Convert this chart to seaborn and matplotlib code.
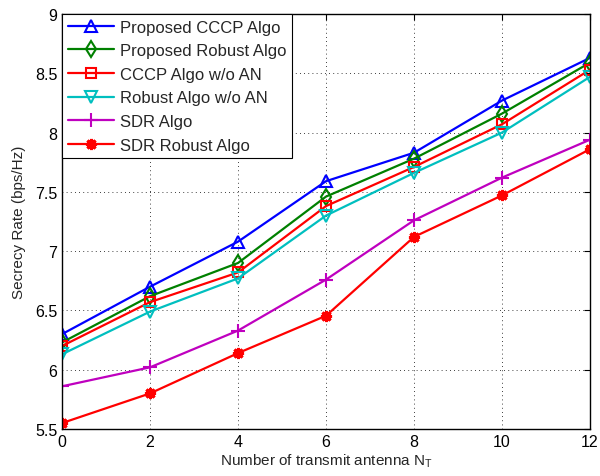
import matplotlib
matplotlib.use("Agg")
import matplotlib.pyplot as plt
import seaborn as sns
import pandas as pd

x_vals = [0, 2, 4, 6, 8, 10, 12]
proposed_cccp = [6.30, 6.70, 7.08, 7.59, 7.83, 8.27, 8.63]
proposed_robust = [6.23, 6.62, 6.90, 7.46, 7.78, 8.16, 8.59]
cccp_wo_an = [6.20, 6.57, 6.82, 7.38, 7.71, 8.07, 8.53]
robust_wo_an = [6.13, 6.49, 6.77, 7.30, 7.66, 8.00, 8.47]
sdr_algo = [5.86, 6.02, 6.33, 6.76, 7.26, 7.62, 7.94]
sdr_robust = [5.55, 5.80, 6.14, 6.455, 7.12, 7.47, 7.86]

labels = ["Proposed CCCP Algo", "Proposed Robust Algo", "CCCP Algo w/o AN",
          "Robust Algo w/o AN", "SDR Algo", "SDR Robust Algo"]
series = [proposed_cccp, proposed_robust, cccp_wo_an, robust_wo_an, sdr_algo, sdr_robust]
colors = ["#0000ff", "#008000", "#ff0000", "#00bfbf", "#bf00bf", "#ff0000"]
markers = ["^", "d", "s", "v", "+", (8, 2, 0)]
msizes = [9, 8, 7, 9, 10, 8]
xticks = [0, 2, 4, 6, 8, 10, 12]
yticks = [5.5, 6, 6.5, 7, 7.5, 8, 8.5, 9]

sns.set_style("white")
plt.rcParams['font.family'] = ['Liberation Sans', 'DejaVu Sans']
plt.rcParams['mathtext.fontset'] = 'custom'
plt.rcParams['mathtext.rm'] = 'Liberation Sans'

fig = plt.figure(figsize=(6, 4.77), dpi=100)
ax = fig.add_axes([62/600, 1 - 430/477, 528/600, 415/477])

for lab, ys, c, m, ms in zip(labels, series, colors, markers, msizes):
    df = pd.DataFrame({"x": x_vals, "y": ys})
    mew = 2.2 if isinstance(m, tuple) else 1.5
    sns.lineplot(data=df, x="x", y="y", ax=ax, color=c, marker=m, markersize=ms,
                 linewidth=1.6, label=lab, markerfacecolor="none",
                 markeredgecolor=c, markeredgewidth=mew)

ax.set_xlim(0, 12)
ax.set_ylim(5.5, 9)
ax.set_xticks(xticks)
ax.set_yticks(yticks)
ax.set_yticklabels([f"{v:g}" for v in yticks])
ax.grid(True, color="black", linestyle=(0, (1, 4)), linewidth=0.6)
ax.tick_params(direction="in", top=True, right=True, length=4, width=0.8,
               labelsize=11.5, colors="black")
for s in ax.spines.values():
    s.set_color("black")
    s.set_linewidth(1.0)
ax.set_xlabel(r"Number of transmit antenna N$_\mathregular{T}$", fontsize=11, labelpad=2)
ax.set_ylabel("Secrecy Rate (bps/Hz)", fontsize=11, labelpad=6)

leg = ax.legend(loc="upper left", fontsize=12, handlelength=2.8, handletextpad=0.35,
                borderaxespad=0.0, labelspacing=0.52, borderpad=0.33, fancybox=False,
                framealpha=1)
leg.get_frame().set_edgecolor("black")
leg.get_frame().set_linewidth(0.8)

fig.savefig("out.png", dpi=100)
